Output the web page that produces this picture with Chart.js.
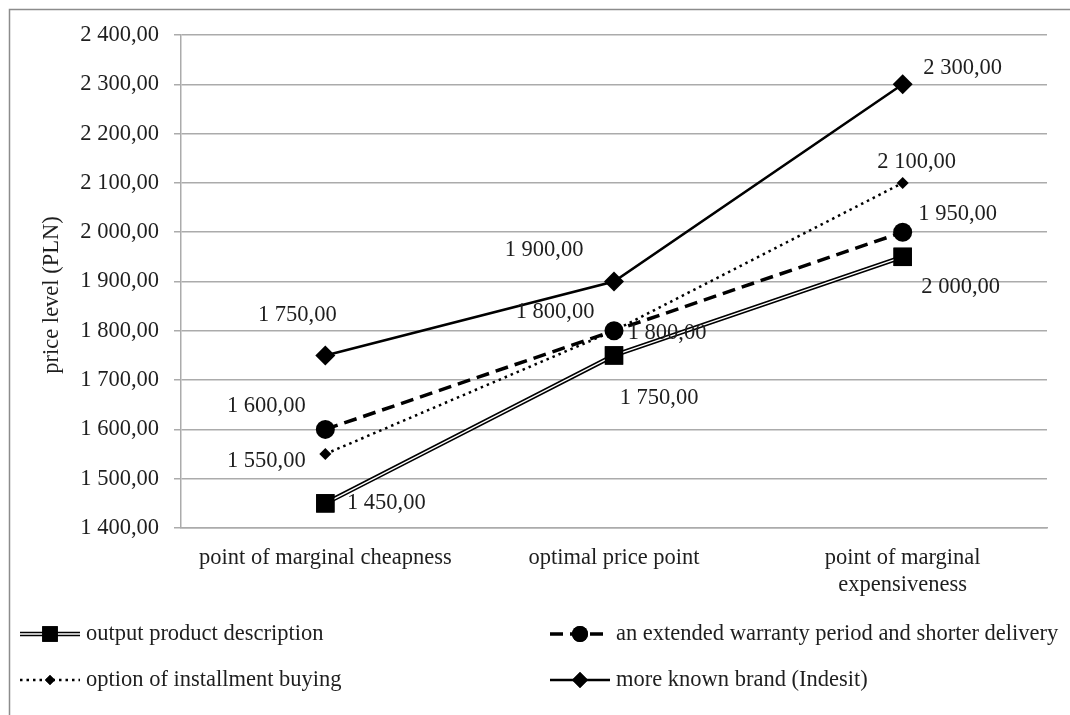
<!DOCTYPE html>
<html>
<head>
<meta charset="utf-8">
<script src="https://cdn.jsdelivr.net/npm/chart.js@4.4.1/dist/chart.umd.min.js"></script>
<style>
    body { margin: 0; background: #ffffff; }
    #main-graph { display: block; }
</style>
</head>
<body>
<canvas id="main-graph"></canvas>
<script>
const graph_width = 1070;
const graph_height = 715;

// categories on the x axis
const categories = ["point of marginal cheapness", "optimal price point", ["point of marginal", "expensiveness"]];

// y axis range
const y_min = 1400;
const y_max = 2400;
const y_step = 100;

// series values (PLN)
const output_product = [1450, 1750, 1950];
const extended_warranty = [1600, 1800, 2000];
const installment_buying = [1550, 1800, 2100];
const known_brand = [1750, 1900, 2300];

// value labels as printed next to the points
const output_labels = ["1 450,00", "1 750,00", "2 000,00"];
const warranty_labels = ["1 600,00", "1 800,00", "1 950,00"];
const installment_labels = ["1 550,00", "1 800,00", "2 100,00"];
const brand_labels = ["1 750,00", "1 900,00", "2 300,00"];

const series_names = [
    "output product description",
    "an extended warranty period and shorter delivery",
    "option of installment buying",
    "more known brand (Indesit)"
];

// where each value label sits, relative to its point (px)
const label_offsets = [
    [[61, 0], [45, 43], [58, 30]],
    [[-59, -23], [53, 2], [55, -18]],
    [[-59, 7], [-59, -19], [14, -21]],
    [[-28, -40], [-70, -31], [60, -16]]
];
const label_texts = [output_labels, warranty_labels, installment_labels, brand_labels];

const font_family = "'Liberation Serif', 'Times New Roman', serif";
const font_size = 22.5;
const text_font = font_size + "px " + font_family;
const text_color = "#1e1e1e";
const grid_color = "#ababab";

function format_pln(v)
{
    let parts = v.toFixed(2).split(".");
    let int_part = parts[0].replace(/\B(?=(\d{3})+(?!\d))/g, " ");
    return int_part + "," + parts[1];
}

// white core for the double line of the first series
const doubleLinePlugin = {
    id: "doubleLine",
    afterDatasetDraw(chart, args) {
        if (args.index !== 0) return;
        const ctx = chart.ctx;
        const pts = args.meta.data;
        ctx.save();
        ctx.strokeStyle = "#ffffff";
        ctx.lineWidth = 1.3;
        ctx.beginPath();
        ctx.moveTo(pts[0].x, pts[0].y);
        for (let i = 1; i < pts.length; i++)
            ctx.lineTo(pts[i].x, pts[i].y);
        ctx.stroke();
        ctx.restore();
        pts.forEach(p => p.draw(ctx, chart.chartArea));
    }
};

const valueLabelPlugin = {
    id: "valueLabels",
    afterDatasetsDraw(chart) {
        const ctx = chart.ctx;
        ctx.save();
        ctx.font = text_font;
        ctx.fillStyle = text_color;
        ctx.textAlign = "center";
        ctx.textBaseline = "middle";
        chart.data.datasets.forEach((ds, d) => {
            const meta = chart.getDatasetMeta(d);
            meta.data.forEach((p, i) => {
                const off = label_offsets[d][i];
                ctx.fillText(label_texts[d][i], p.x + off[0], p.y + off[1]);
            });
        });
        ctx.restore();
    }
};

function draw_marker(ctx, ds, x, y)
{
    Chart.helpers.drawPoint(ctx, {
        pointStyle: ds.pointStyle,
        radius: ds.legendRadius,
        rotation: 0,
        borderWidth: 0
    }, x, y);
    ctx.fill();
}

const customLegendPlugin = {
    id: "customLegend",
    beforeDraw(chart) {
        const ctx = chart.ctx;
        ctx.save();
        ctx.strokeStyle = "#8c8c8c";
        ctx.lineWidth = 1.5;
        ctx.beginPath();
        ctx.moveTo(9.5, graph_height + 5);
        ctx.lineTo(9.5, 9.5);
        ctx.lineTo(graph_width + 5, 9.5);
        ctx.stroke();

        // y axis title
        ctx.translate(52, 295);
        ctx.rotate(-Math.PI / 2);
        ctx.font = text_font;
        ctx.fillStyle = text_color;
        ctx.textAlign = "center";
        ctx.textBaseline = "middle";
        ctx.fillText("price level (PLN)", 0, 0);
        ctx.restore();
    },
    afterDraw(chart) {
        const ctx = chart.ctx;
        const slots = [[20, 634], [550, 634], [20, 680], [550, 680]];
        ctx.save();
        chart.data.datasets.forEach((ds, d) => {
            const x0 = slots[d][0];
            const y0 = slots[d][1];
            const x1 = x0 + 60;
            ctx.strokeStyle = "#000000";
            ctx.fillStyle = "#000000";
            ctx.lineWidth = ds.borderWidth;
            ctx.setLineDash(ds.borderDash || []);
            ctx.beginPath();
            ctx.moveTo(x0, y0);
            ctx.lineTo(x1, y0);
            ctx.stroke();
            ctx.setLineDash([]);
            if (d === 0) {
                ctx.strokeStyle = "#ffffff";
                ctx.lineWidth = 1.3;
                ctx.beginPath();
                ctx.moveTo(x0, y0);
                ctx.lineTo(x1, y0);
                ctx.stroke();
            }
            draw_marker(ctx, ds, x0 + 30, y0);
            ctx.font = text_font;
            ctx.fillStyle = text_color;
            ctx.textAlign = "left";
            ctx.textBaseline = "middle";
            ctx.fillText(series_names[d], x1 + 6, y0);
        });
        ctx.restore();
    }
};

const data = {
    labels: categories,
    datasets: [
        {
            label: series_names[0],
            data: output_product,
            borderColor: "#000000",
            backgroundColor: "#000000",
            borderWidth: 4.5,
            pointStyle: "rect",
            pointRadius: 13,
            legendRadius: 11,
            pointBorderWidth: 0
        },
        {
            label: series_names[1],
            data: extended_warranty,
            borderColor: "#000000",
            backgroundColor: "#000000",
            borderWidth: 3.5,
            borderDash: [13, 7],
            pointStyle: "circle",
            pointRadius: 9.5,
            legendRadius: 8,
            pointBorderWidth: 0
        },
        {
            label: series_names[2],
            data: installment_buying,
            borderColor: "#000000",
            backgroundColor: "#000000",
            borderWidth: 2.5,
            borderDash: [2.5, 4],
            pointStyle: "rectRot",
            pointRadius: 6,
            legendRadius: 5,
            pointBorderWidth: 0
        },
        {
            label: series_names[3],
            data: known_brand,
            borderColor: "#000000",
            backgroundColor: "#000000",
            borderWidth: 2.5,
            pointStyle: "rectRot",
            pointRadius: 10,
            legendRadius: 8,
            pointBorderWidth: 0
        }
    ]
};

const config = {
    type: "line",
    data: data,
    options: {
        responsive: false,
        animation: false,
        devicePixelRatio: 1,
        layout: {
            padding: { left: 10, right: 23, top: 35, bottom: 10 }
        },
        plugins: {
            legend: { display: false },
            tooltip: { enabled: false }
        },
        elements: {
            line: { tension: 0 }
        },
        scales: {
            x: {
                offset: true,
                afterFit: (s) => { s.height = graph_height - 528 - 10; },
                grid: { display: false, drawTicks: false },
                border: { display: true, color: grid_color, width: 1.5 },
                ticks: {
                    padding: 16,
                    color: text_color,
                    font: { family: font_family, size: font_size, lineHeight: 1.22 },
                    maxRotation: 0,
                    autoSkip: false
                }
            },
            y: {
                min: y_min,
                max: y_max,
                afterFit: (s) => { s.width = 181 - 10; },
                grid: { color: grid_color, lineWidth: 1.5, tickLength: 7, drawTicks: true },
                border: { display: true, color: grid_color, width: 1.5 },
                ticks: {
                    stepSize: y_step,
                    padding: 15,
                    color: text_color,
                    font: { family: font_family, size: font_size },
                    callback: (v) => format_pln(v)
                }
            }
        }
    },
    plugins: [doubleLinePlugin, valueLabelPlugin, customLegendPlugin]
};

const main_graph = document.getElementById("main-graph");
main_graph.width = graph_width;
main_graph.height = graph_height;
const myChart = new Chart(main_graph.getContext("2d"), config);
</script>
</body>
</html>
